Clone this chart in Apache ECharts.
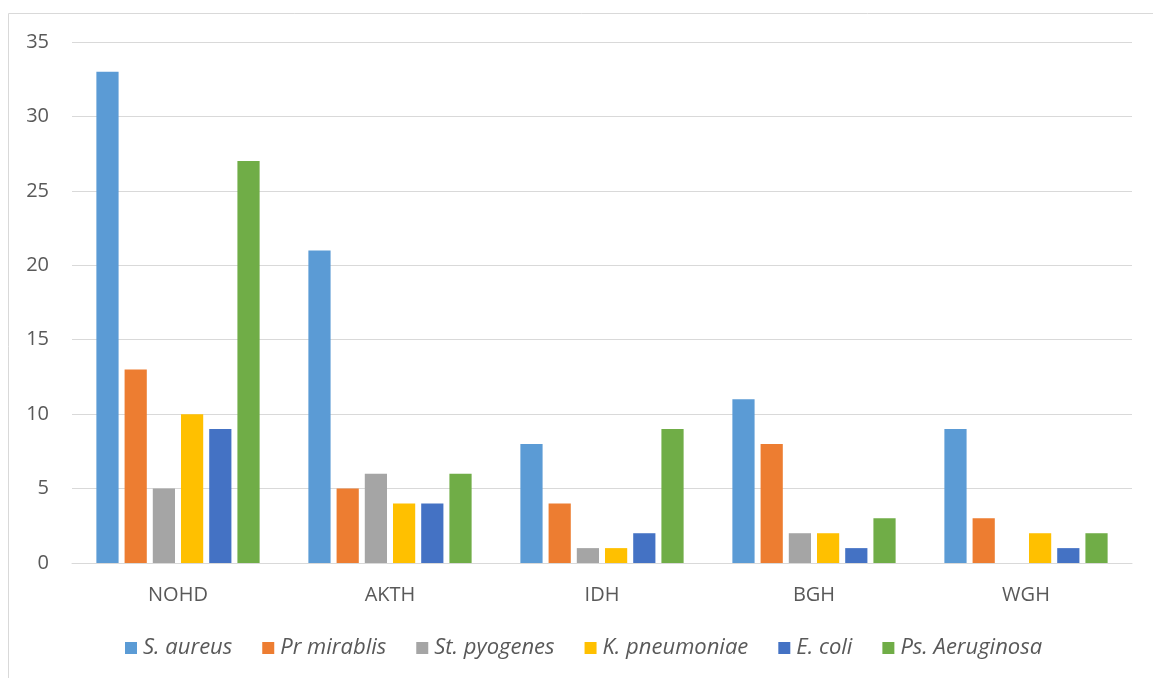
<!DOCTYPE html>
<html>
<head>
<meta charset="utf-8">
<script src="https://cdn.jsdelivr.net/npm/echarts@6/dist/echarts.min.js"></script>
<style>
  html, body { margin: 0; padding: 0; background: #fff; }
  #chart { width: 1153px; height: 678px; }
</style>
</head>
<body>
<div id="chart"></div>
<script>
// Isolates per hospital
const categories = ['NOHD', 'AKTH', 'IDH', 'BGH', 'WGH'];
const seriesNames = ['S. aureus', 'Pr mirablis', 'St. pyogenes', 'K. pneumoniae', 'E. coli', 'Ps. Aeruginosa'];
const sAureus = [33, 21, 8, 11, 9];
const prMirablis = [13, 5, 4, 8, 3];
const stPyogenes = [5, 6, 1, 2, 0];
const kPneumoniae = [10, 4, 1, 2, 2];
const eColi = [9, 4, 2, 1, 1];
const psAeruginosa = [27, 6, 9, 3, 2];
const colors = ['#5B9BD5', '#ED7D31', '#A5A5A5', '#FFC000', '#4472C4', '#70AD47'];

const values = [sAureus, prMirablis, stPyogenes, kPneumoniae, eColi, psAeruginosa];
const font = '"Open Sans", "Liberation Sans", sans-serif';

const chart = echarts.init(document.getElementById('chart'), null, { renderer: 'canvas' });
chart.setOption({
  animation: false,
  color: colors,
  graphic: [{
    type: 'rect',
    shape: { x: 8.5, y: 13.5, width: 1160, height: 700 },
    style: { fill: 'none', stroke: '#d9d9d9', lineWidth: 1 },
    silent: true
  }],
  grid: { left: 72, right: 21, top: 42, bottom: 115 },
  legend: {
    bottom: 14,
    left: 120,
    itemWidth: 12,
    itemHeight: 12,
    itemGap: 30,
    icon: 'rect',
    textStyle: { fontFamily: font, fontStyle: 'italic', fontSize: 22, color: '#595959', padding: [0, 0, 0, 1] },
    data: seriesNames
  },
  xAxis: {
    type: 'category',
    data: categories,
    axisLine: { lineStyle: { color: '#d9d9d9', width: 1 } },
    axisTick: { show: false },
    axisLabel: { fontFamily: font, fontSize: 20, color: '#595959', margin: 22 }
  },
  yAxis: {
    type: 'value',
    min: 0,
    max: 35,
    interval: 5,
    axisLine: { show: false },
    axisTick: { show: false },
    splitLine: { lineStyle: { color: '#d9d9d9', width: 1 } },
    axisLabel: { fontFamily: font, fontSize: 20, color: '#595959', margin: 23 }
  },
  series: seriesNames.map((name, i) => ({
    name: name,
    type: 'bar',
    data: values[i],
    barGap: '27%',
    barCategoryGap: '23%',
    itemStyle: { color: colors[i] }
  }))
});
</script>
</body>
</html>
